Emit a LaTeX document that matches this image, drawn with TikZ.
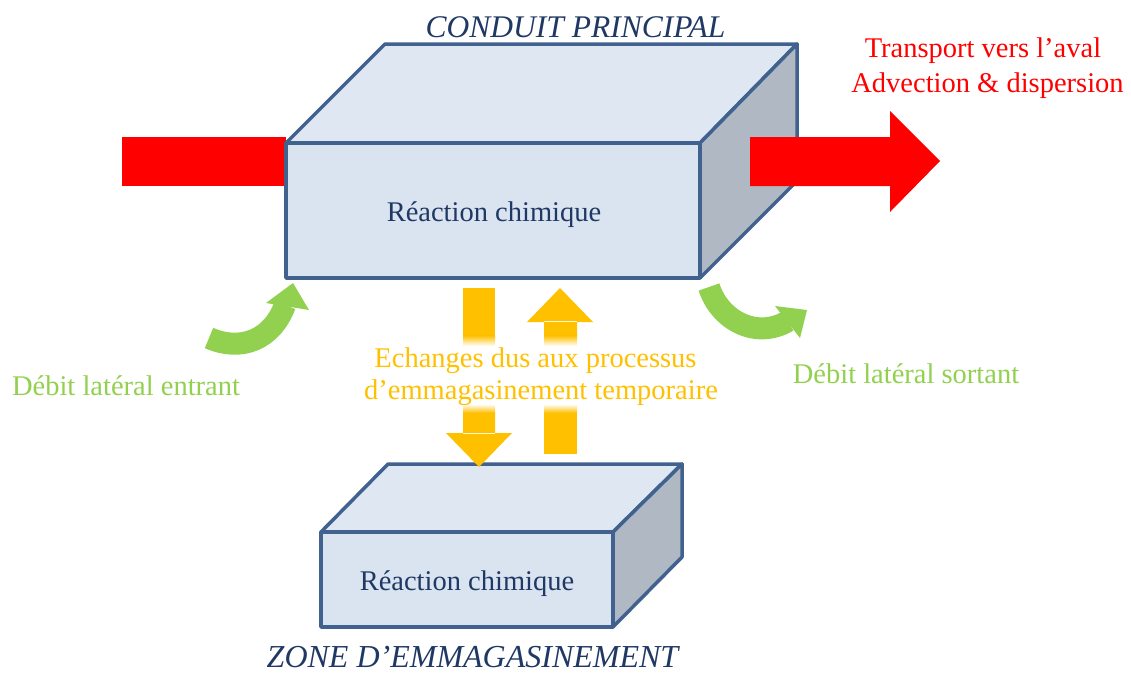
\documentclass[tikz,border=0pt]{standalone}
\usepackage{fontspec}
\setmainfont{Liberation Serif}
\definecolor{boxblue}{RGB}{65,98,143}
\definecolor{frontfill}{RGB}{218,227,240}
\definecolor{topfill}{RGB}{223,231,243}
\definecolor{sidefill}{RGB}{176,185,195}
\definecolor{navy}{RGB}{31,56,100}
\definecolor{redc}{RGB}{255,0,0}
\definecolor{greenc}{RGB}{146,208,80}
\definecolor{orangec}{RGB}{255,192,0}
\tikzset{
  boxedge/.style={draw=boxblue,line width=3.5pt,line join=round},
  lbl/.style={anchor=base,inner sep=0pt,font=\fontsize{28.5}{34}\selectfont},
  title/.style={anchor=base,inner sep=0pt,text=navy,font=\fontsize{32}{38}\selectfont\itshape},
  greenband/.style={draw=greenc,line width=22pt},
}
\begin{document}
\begin{tikzpicture}[x=1pt,y=-1pt]
\useasboundingbox (0,0) rectangle (1131,673);
% incoming red bar
\fill[redc] (122,137) rectangle (286,186);
% main box
\coordinate (mA) at (286,143);
\coordinate (mB) at (700,143);
\coordinate (mC) at (700,278);
\coordinate (mD) at (286,278);
\coordinate (mE) at (385,44);
\coordinate (mF) at (797,44);
\coordinate (mG) at (797,181);
\filldraw[boxedge,fill=topfill] (mA) -- (mE) -- (mF) -- (mB) -- cycle;
\filldraw[boxedge,fill=sidefill] (mB) -- (mF) -- (mG) -- (mC) -- cycle;
\filldraw[boxedge,fill=frontfill] (mA) -- (mB) -- (mC) -- (mD) -- cycle;
\node[lbl,text=navy] (r1) at (494,221) {Réaction chimique};
% outgoing red arrow
\fill[redc] (750,137) -- (890,137) -- (890,111) -- (940,161) -- (890,212) -- (890,186) -- (750,186) -- cycle;
% storage box
\coordinate (sA) at (321,532);
\coordinate (sB) at (613,532);
\coordinate (sC) at (613,627);
\coordinate (sD) at (321,627);
\coordinate (sE) at (388,464);
\coordinate (sF) at (682,464);
\coordinate (sG) at (682,557);
\filldraw[boxedge,fill=topfill] (sA) -- (sE) -- (sF) -- (sB) -- cycle;
\filldraw[boxedge,fill=sidefill] (sB) -- (sF) -- (sG) -- (sC) -- cycle;
\filldraw[boxedge,fill=frontfill] (sA) -- (sB) -- (sC) -- (sD) -- cycle;
\node[lbl,text=navy] (r2) at (467,590) {Réaction chimique};
% exchange arrows (down)
\fill[orangec] (463,288) rectangle (495,336);
\shade[top color=orangec,bottom color=white] (463,335.5) rectangle (495,346);
\shade[top color=white,bottom color=orangec] (463,404) rectangle (495,413);
\fill[orangec] (463,412.5) rectangle (495,434) (446,433) -- (512,433) -- (479,467) -- cycle;
% exchange arrows (up)
\fill[orangec] (527,322) -- (560,288) -- (593,322) -- cycle (544,321) rectangle (577,336);
\shade[top color=orangec,bottom color=white] (544,335.5) rectangle (577,346);
\shade[top color=white,bottom color=orangec] (544,404) rectangle (577,413);
\fill[orangec] (544,412.5) rectangle (577,454);
\node[lbl,text=orangec] (ex1) at (535.5,367) {Echanges dus aux processus};
\node[lbl,text=orangec] (ex2) at (541,399) {d’emmagasinement temporaire};
% lateral inflow
\draw[greenband] (209,338) .. controls (241,352) and (272,340) .. (285,305);
\fill[greenc] (266,303) -- (293,283) -- (309,310) -- cycle;
\node[lbl,text=greenc] (lin) at (126,395) {Débit latéral entrant};
% lateral outflow
\draw[greenband] (709,287) .. controls (719.5,320) and (756,340) .. (788,321);
\fill[greenc] (775,306) -- (807,310) -- (800,338) -- cycle;
\node[lbl,text=greenc] (lout) at (906,383) {Débit latéral sortant};
% titles
\node[title,font=\fontsize{31.5}{38}\selectfont\itshape] (t1) at (575.5,37) {CONDUIT PRINCIPAL};
\node[title] (t2) at (472.5,667) {ZONE D’EMMAGASINEMENT};
\node[lbl,text=redc] (tr1) at (983,57) {Transport vers l’aval};
\node[lbl,text=redc] (tr2) at (987.5,92) {Advection \& dispersion};
\end{tikzpicture}
\end{document}
